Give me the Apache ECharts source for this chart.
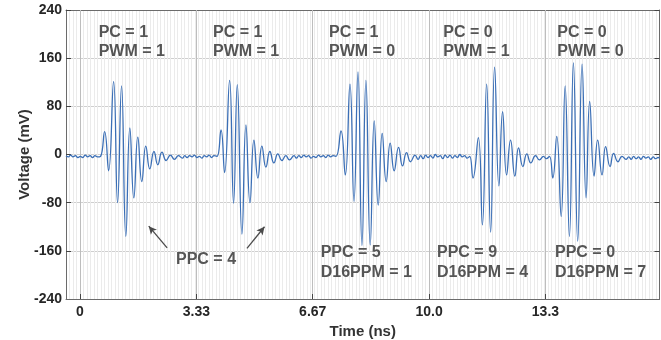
<!DOCTYPE html>
<html>
<head>
<meta charset="utf-8">
<script src="https://cdn.jsdelivr.net/npm/echarts@6/dist/echarts.min.js"></script>
<style>
html,body{margin:0;padding:0;background:#fff;}
#chart{width:661px;height:340px;}
</style>
</head>
<body>
<div id="chart"></div>
<script>
// ---- data (time in ns, voltage in mV) ----
const xTickValues = [0, 3.333, 6.667, 10, 13.333];
const xTickLabels = ['0', '3.33', '6.67', '10.0', '13.3'];
const yTickLabels = ['-240', '-160', '-80', '0', '80', '160', '240'];

const noise0 = [[-0.4,-2],[-0.33,-4],[-0.27,-1],[-0.2,-4],[-0.13,-2],[-0.06,-5],[0.01,-3],[0.08,-5],[0.15,-1],[0.22,-4],[0.29,-2],[0.36,-5],[0.43,-2],[0.5,-4]];
const pulse1 = [[0.59,-3],[0.706,38],[0.82,-27],[0.963,121],[1.077,-80],[1.191,114],[1.314,-136],[1.429,44],[1.543,-72],[1.657,29],[1.771,-45],[1.886,14],[2.0,-24],[2.12,5],[2.229,-17],[2.349,4],[2.469,-10],[2.591,-1],[2.706,-8],[2.82,-2],[2.934,-6]];
const noise1 = [[3.0,-2],[3.07,-5],[3.14,-2],[3.21,-4],[3.28,-1],[3.35,-5],[3.42,-3],[3.49,-6],[3.56,-2],[3.63,-4],[3.7,-1],[3.77,-5],[3.84,-2]];
const pulse2 = [[3.926,-3],[4.04,41],[4.143,-30],[4.286,123],[4.4,-81],[4.506,116],[4.64,-132],[4.754,49],[4.869,-80],[4.983,24],[5.097,-39],[5.211,14],[5.326,-21],[5.44,5],[5.554,-14],[5.669,1],[5.783,-10],[5.897,-2],[6.0,-9],[6.134,-2]];
const noise2 = [[6.2,-6],[6.27,-2],[6.34,-5],[6.41,-1],[6.48,-4],[6.55,-2],[6.62,-6],[6.69,-3],[6.76,-5],[6.83,-1],[6.9,-4],[6.97,-2],[7.04,-5],[7.11,-1],[7.18,-4],[7.25,-2]];
const pulse3 = [[7.334,-3],[7.477,39],[7.6,-34],[7.734,117],[7.849,-78],[7.963,137],[8.077,-151],[8.191,123],[8.314,-150],[8.429,56],[8.543,-84],[8.657,35],[8.771,-45],[8.886,19],[9.0,-27],[9.126,12],[9.24,-19],[9.354,3],[9.469,-12],[9.6,-1],[9.686,-8]];
const noise3 = [[9.76,-2],[9.83,-7],[9.9,-1],[9.97,-5],[10.04,-2],[10.11,-6],[10.18,0],[10.25,-4],[10.32,-2],[10.39,-7],[10.46,-1],[10.53,-5],[10.6,-1],[10.67,-6],[10.74,-2],[10.81,-5],[10.88,0],[10.95,-4],[11.02,-2],[11.09,-6]];
const pulse4 = [[11.163,-3],[11.257,-39],[11.411,28],[11.526,-117],[11.649,117],[11.763,-129],[11.877,145],[12.0,-52],[12.106,71],[12.22,-34],[12.334,24],[12.457,-36],[12.563,11],[12.686,-20],[12.8,1],[12.914,-14],[13.049,-2],[13.163,-9],[13.277,-3]];
const noise4 = [[13.36,-7]];
const pulse5 = [[13.449,-3],[13.543,-39],[13.657,30],[13.783,-103],[13.897,114],[14.02,-136],[14.134,152],[14.257,-144],[14.383,150],[14.497,-72],[14.6,88],[14.726,-36],[14.829,24],[14.954,-34],[15.057,13],[15.183,-20],[15.286,2],[15.411,-12],[15.526,-3],[15.64,-8]];
const noise5 = [[15.72,-4],[15.79,-8],[15.86,-3],[15.93,-7],[16.0,-4],[16.07,-8],[16.14,-3],[16.21,-6],[16.28,-4],[16.35,-8],[16.42,-4],[16.49,-7],[16.56,-5],[16.6,-6]];

const topNotes = ['PC = 1\nPWM = 1', 'PC = 1\nPWM = 1', 'PC = 1\nPWM = 0', 'PC = 0\nPWM = 1', 'PC = 0\nPWM = 0'];
const bottomNotes = ['PPC = 5\nD16PPM = 1', 'PPC = 9\nD16PPM = 4', 'PPC = 0\nD16PPM = 7'];
const ppc4Note = 'PPC = 4';
// arrows: [from, to] in data units
const arrows = [[[2.497,-155],[1.971,-119]], [[4.783,-156],[5.286,-120]]];

const waveform = [].concat(noise0, pulse1, noise1, pulse2, noise2, pulse3, noise3, pulse4, noise4, pulse5, noise5);

// ---- chart ----
const FONT = '"Liberation Sans", Arial, sans-serif';
const chart = echarts.init(document.getElementById('chart'), null, {renderer: 'canvas'});
const XMIN = -0.4, XMAX = 16.6;
const axisCol = '#6b6b6b';

const topX = [98.7, 213, 329, 443.3, 557.3];
const botX = [320.7, 437, 555];
const graphics = [];
topNotes.forEach((t, i) => graphics.push({
  type: 'text', x: topX[i], y: 42.3, silent: true, z: 100,
  style: {text: t, fontFamily: FONT, fontWeight: 'bold', fontSize: 16, lineHeight: 19, fill: '#555', verticalAlign: 'middle', align: 'left'}
}));
bottomNotes.forEach((t, i) => graphics.push({
  type: 'text', x: botX[i], y: 262.8, silent: true, z: 100,
  style: {text: t, fontFamily: FONT, fontWeight: 'bold', fontSize: 16, lineHeight: 19.5, fill: '#555', verticalAlign: 'middle', align: 'left'}
}));
graphics.push({
  type: 'text', x: 176, y: 260, silent: true, z: 100,
  style: {text: ppc4Note, fontFamily: FONT, fontWeight: 'bold', fontSize: 16, fill: '#555', verticalAlign: 'middle', align: 'left'}
});

const option = {
  animation: false,
  backgroundColor: '#fff',
  grid: {left: 66, right: 1.5, top: 10, bottom: 41, containLabel: false, outerBoundsMode: 'none'},
  xAxis: [
    { // minor grid
      type: 'value', position: 'top', min: XMIN, max: XMAX, interval: 0.1,
      axisLine: {show: true, onZero: false, lineStyle: {color: axisCol, width: 1}},
      axisTick: {show: false}, axisLabel: {show: false},
      splitLine: {show: true, lineStyle: {color: '#ebebeb', width: 1}}
    },
    { // major ticks/labels bottom
      type: 'value', position: 'bottom', min: XMIN, max: XMAX, z: 1,
      name: 'Time (ns)', nameLocation: 'middle', nameGap: 25,
      nameTextStyle: {fontFamily: FONT, fontWeight: 'bold', fontSize: 15, color: '#333'},
      axisLine: {show: true, onZero: false, lineStyle: {color: axisCol, width: 1}},
      axisTick: {show: true, inside: true, length: 5, customValues: xTickValues, lineStyle: {color: '#444'}},
      axisLabel: {show: true, customValues: xTickValues, margin: 6,
        fontFamily: FONT, fontWeight: 'bold', fontSize: 14, color: '#262626',
        formatter: v => { let k = 0, best = 1e9; xTickValues.forEach((tv, i) => { if (Math.abs(tv - v) < best) { best = Math.abs(tv - v); k = i; } }); return xTickLabels[k]; }},
      splitLine: {show: true, lineStyle: {color: '#bdbdbd', width: 1}}
    },
    { // top ticks
      type: 'value', position: 'top', min: XMIN, max: XMAX,
      axisLine: {show: false, onZero: false},
      axisTick: {show: true, inside: true, length: 5, customValues: xTickValues, lineStyle: {color: '#444'}},
      axisLabel: {show: false, customValues: xTickValues},
      splitLine: {show: false}
    }
  ],
  yAxis: [
    {
      type: 'value', position: 'left', min: -240, max: 240, interval: 80,
      name: 'Voltage (mV)', nameLocation: 'middle', nameGap: 34, nameRotate: 90, nameMoveOverlap: false,
      nameTextStyle: {fontFamily: FONT, fontWeight: 'bold', fontSize: 15, color: '#333'},
      axisLine: {show: true, onZero: false, lineStyle: {color: axisCol, width: 1}},
      axisTick: {show: true, inside: true, length: 5, lineStyle: {color: '#444'}},
      axisLabel: {margin: 4, fontFamily: FONT, fontWeight: 'bold', fontSize: 14, color: '#262626',
        formatter: v => yTickLabels[Math.round((v + 240) / 80)]},
      splitLine: {show: true, lineStyle: {color: '#cfcfcf', width: 1}}
    },
    {
      type: 'value', position: 'right', min: -240, max: 240, interval: 80,
      axisLine: {show: true, onZero: false, lineStyle: {color: axisCol, width: 1}},
      axisTick: {show: true, inside: true, length: 5, lineStyle: {color: '#444'}},
      axisLabel: {show: false}, splitLine: {show: false}
    }
  ],
  series: [{
    type: 'line', xAxisIndex: 1, yAxisIndex: 0,
    data: waveform, showSymbol: false, smooth: 0.5,
    lineStyle: {color: '#3b6fb6', width: 1.3},
    z: 5,
    markLine: {
      silent: true, symbol: ['none', 'arrow'], symbolSize: [6, 8],
      label: {show: false},
      lineStyle: {color: '#4a4a4a', width: 1.3, type: 'solid'},
      emphasis: {disabled: true},
      data: arrows.map(a => [{coord: a[0]}, {coord: a[1]}])
    }
  }],
  graphic: graphics
};
chart.setOption(option);
</script>
</body>
</html>
